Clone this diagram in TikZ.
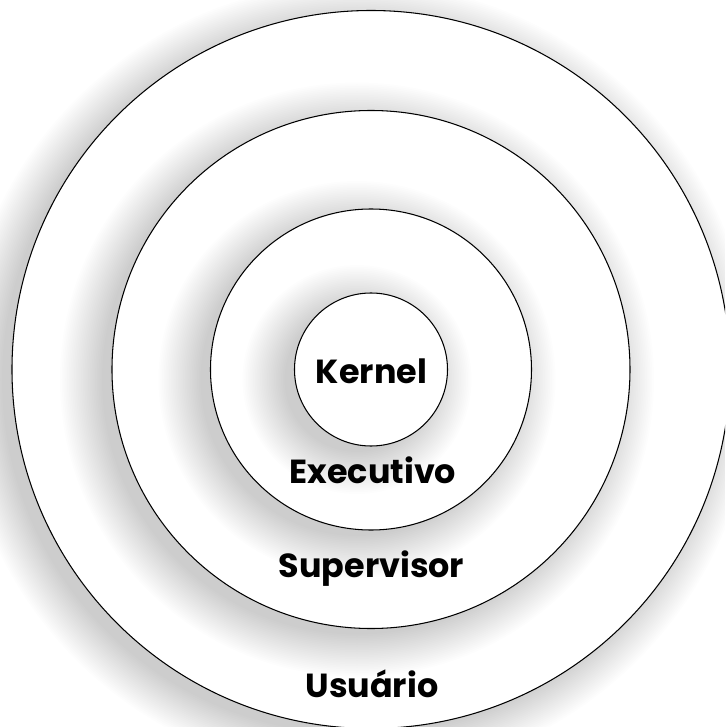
\documentclass[tikz,border=0pt]{standalone}
\usepackage{fontspec}
\setmainfont{Poppins}
\usetikzlibrary{positioning}

\tikzset{
  ring/.style={draw=black, fill=white, line width=0.6pt},
  ringshadow/.style={fill=black, opacity=0.008},
  layertext/.style={font=\bfseries\fontsize{19}{19}\selectfont, anchor=base, inner sep=0pt}
}

% soft shadow of a circle of radius #1, shifted left and down
\newcommand\ringshade[1]{%
  \foreach \k in {0,...,24}
    \fill[ringshadow] (-14,-10) circle ({#1 + 38 - 1.75*\k});
}

\begin{document}
\begin{tikzpicture}[x=0.02cm, y=0.02cm]
  % page, 725 x 727 px, origin at the common centre
  \clip (-371,-357.5) rectangle (354,369.5);
  \fill[white] (-371,-357.5) rectangle (354,369.5);

  % layers, from outside in
  \foreach \r in {359,259,160.5,76.5} {
    \ringshade{\r}
    \filldraw[ring] (0,0) circle (\r);
  }

  % layer names
  \node[layertext] (kernel)     at (0.5,-13.5)  {Kernel};
  \node[layertext] (executivo)  at (2,-113.5)   {Executivo};
  \node[layertext] (supervisor) at (0.5,-207.5) {Supervisor};
  \node[layertext] (usuario)    at (1,-327.5)   {Usuário};
\end{tikzpicture}
\end{document}
